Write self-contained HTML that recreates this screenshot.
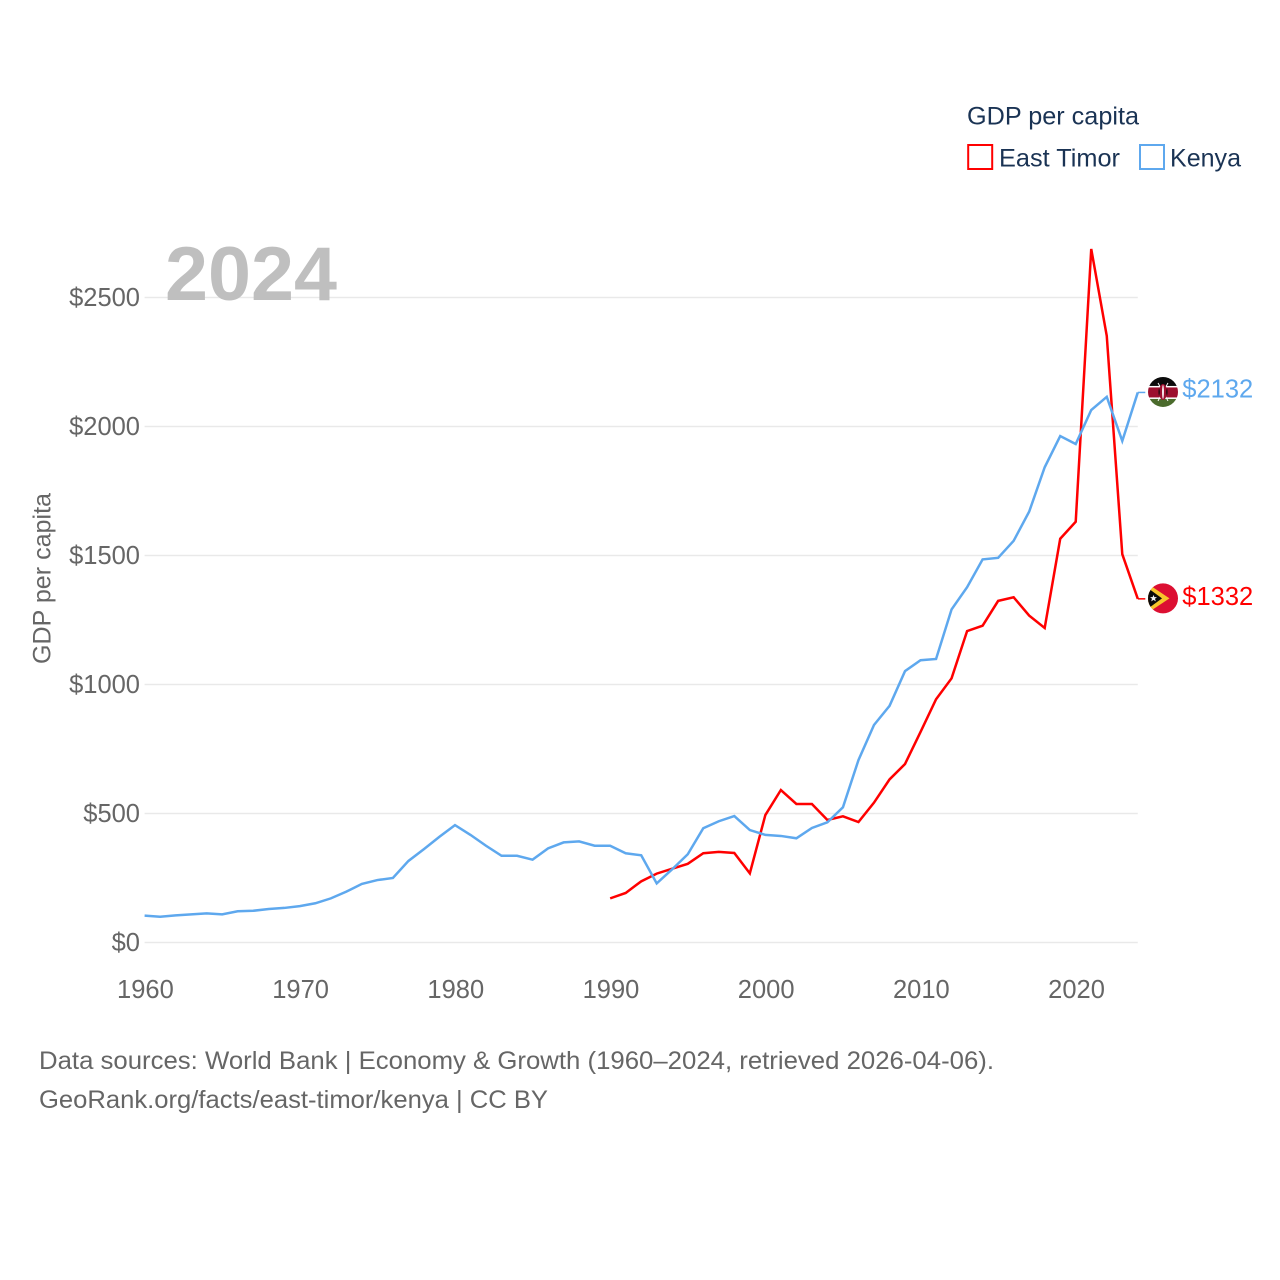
<!DOCTYPE html>
<html lang="en">
<head>
<meta charset="utf-8">
<title>GDP per capita: East Timor and Kenya</title>
<style>
html,body{margin:0;padding:0;background:#fff;}
svg{display:block;}
text{font-family:"Liberation Sans",sans-serif;}
</style>
</head>
<body>
<svg id="chart" xmlns="http://www.w3.org/2000/svg" width="1280" height="1280" viewBox="0 0 1280 1280">
  <rect width="1280" height="1280" fill="#fff"/>
  <defs>
    <clipPath id="flag-clip"><circle cx="0" cy="0" r="15"/></clipPath>
  </defs>
  <g id="grid"></g>
  <text x="165" y="300" font-size="76" font-weight="700" fill="#bfbfbf" textLength="172" lengthAdjust="spacingAndGlyphs">2024</text>
  <g id="y-ticks"></g>
  <g id="x-ticks"></g>
  <text transform="translate(50.5,664) rotate(-90)" font-size="25" fill="#666" textLength="171" lengthAdjust="spacingAndGlyphs">GDP per capita</text>
  <g id="series"></g>

  <g id="flag-kenya">
    <g clip-path="url(#flag-clip)">
      <rect x="-16" y="-16" width="32" height="32" fill="#fff"/>
      <rect x="-16" y="-16" width="32" height="10" fill="#0b0b0b"/>
      <rect x="-16" y="-4.5" width="32" height="10" fill="#9c0f2e"/>
      <rect x="-16" y="7" width="32" height="9" fill="#4b6b2c"/>
      <line x1="-5" y1="-9" x2="5" y2="9" stroke="#fff" stroke-width="1"/>
      <line x1="5" y1="-9" x2="-5" y2="9" stroke="#fff" stroke-width="1"/>
      <ellipse cx="0" cy="0" rx="4" ry="8" fill="#9c0f2e"/>
      <path d="M-4 -4 Q-2.5 0 -4 4 Q-5 0 -4 -4Z M4 -4 Q2.5 0 4 4 Q5 0 4 -4Z" fill="#0b0b0b"/>
      <ellipse cx="0" cy="0" rx="0.9" ry="7" fill="#fff"/>
    </g>
  </g>
  <g id="flag-timor">
    <g clip-path="url(#flag-clip)">
      <rect x="-16" y="-16" width="32" height="32" fill="#dc0f32"/>
      <path d="M-16 -15 L6.5 0 L-16 15Z" fill="#f7c52b"/>
      <path d="M-16 -11 L-1 0 L-16 11Z" fill="#0b0b0b"/>
      <path d="M-9.5 -3.5 L-8.6 -1.2 L-6 -1.2 L-8 0.4 L-7.2 3 L-9.5 1.5 L-11.8 3 L-11 0.4 L-13 -1.2 L-10.4 -1.2Z" fill="#f2f2f2"/>
    </g>
  </g>
  <g id="end-labels"></g>

  <g>
    <text x="967" y="124.3" font-size="25" fill="#1a3354" textLength="172" lengthAdjust="spacingAndGlyphs">GDP per capita</text>
    <rect x="968.2" y="145" width="24" height="24" fill="#fff" stroke="#ff0000" stroke-width="2"/>
    <text x="999" y="166.3" font-size="25" fill="#1a3354" textLength="121" lengthAdjust="spacingAndGlyphs">East Timor</text>
    <rect x="1140" y="145" width="24" height="24" fill="#fff" stroke="#5ea8ee" stroke-width="2"/>
    <text x="1170" y="166.3" font-size="25" fill="#1a3354" textLength="71" lengthAdjust="spacingAndGlyphs">Kenya</text>
  </g>

  <g>
    <text x="39" y="1069" font-size="25" fill="#666" textLength="955" lengthAdjust="spacingAndGlyphs">Data sources: World Bank | Economy &amp; Growth (1960–2024, retrieved 2026-04-06).</text>
    <text x="39" y="1108" font-size="25" fill="#666" textLength="509" lengthAdjust="spacingAndGlyphs">GeoRank.org/facts/east-timor/kenya | CC BY</text>
  </g>
</svg>
<script>
const yTickValues = [0, 500, 1000, 1500, 2000, 2500];
const xTickYears = [1960, 1970, 1980, 1990, 2000, 2010, 2020];
const kenyaStartYear = 1960;
const kenyaValues = [104, 100, 105, 109, 113, 109, 121, 123, 130, 134, 141, 152, 171, 197, 227, 242, 250, 316, 362, 410, 455, 417, 375, 336, 336, 321, 365, 388, 392, 375, 375, 346, 338, 229, 284, 342, 443, 470, 490, 436, 417, 413, 404, 444, 466, 524, 707, 843, 917, 1052, 1094, 1099, 1291, 1377, 1485, 1491, 1557, 1670, 1842, 1963, 1932, 2064, 2115, 1944, 2132];
const timorStartYear = 1990;
const timorValues = [171, 192, 237, 267, 286, 305, 346, 351, 347, 268, 494, 591, 537, 537, 475, 489, 467, 542, 632, 692, 816, 943, 1024, 1207, 1228, 1324, 1338, 1267, 1219, 1565, 1631, 2688, 2351, 1505, 1332];

const NS = 'http://www.w3.org/2000/svg';
const xScale = function (year) { return 144.6 + (year - 1960) * (1137.8 - 144.6) / 64; };
const yScale = function (value) { return 942.5 - value * 0.258; };

function make(tag, parent, attrs, text) {
  const el = document.createElementNS(NS, tag);
  Object.keys(attrs).forEach(function (k) { el.setAttribute(k, attrs[k]); });
  if (text !== undefined) { el.textContent = text; }
  parent.appendChild(el);
  return el;
}

const gridGroup = document.getElementById('grid');
const yGroup = document.getElementById('y-ticks');
yTickValues.forEach(function (v) {
  const line = make('line', gridGroup, { x1: 144.6, x2: 1137.8, y1: yScale(v), y2: yScale(v), stroke: '#e9e9e9', 'stroke-width': 1.5 });
  
  
  const label = make('text', yGroup, { x: 140, y: yScale(v) + 8.3, 'text-anchor': 'end', 'font-size': 25.5, fill: '#666' }, '$' + v);
  
  
});

const xGroup = document.getElementById('x-ticks');
xTickYears.forEach(function (year) {
  const label = make('text', xGroup, { x: xScale(year) + 0.8, y: 998, 'text-anchor': 'middle', 'font-size': 25.5, fill: '#666' }, String(year));
  
  
});

function drawSeries(values, startYear, color, flagId, labelOffset) {
  const seriesGroup = document.getElementById('series');
  const points = values.map(function (v, i) { return xScale(startYear + i).toFixed(2) + ',' + yScale(v).toFixed(2); });
  const path = make('polyline', seriesGroup, { points: points.join(' '), fill: 'none', stroke: color, 'stroke-width': 2.5, 'stroke-linejoin': 'miter' });
  
  
  const last = values[values.length - 1];
  const lastX = xScale(startYear + values.length - 1);
  const lastY = yScale(last);
  const connector = make('line', seriesGroup, { x1: lastX, x2: lastX + 7.5, y1: lastY, y2: lastY, stroke: color, 'stroke-width': 1.5 });
  
  
  document.getElementById(flagId).setAttribute('transform', 'translate(1163,' + (lastY - 0.5) + ')');
  const label = make('text', document.getElementById('end-labels'), { x: 1182.3, y: lastY + labelOffset, 'font-size': 25.5, fill: color }, '$' + last);
  
  
}

drawSeries(timorValues, timorStartYear, '#ff0000', 'flag-timor', 6);
drawSeries(kenyaValues, kenyaStartYear, '#5ea8ee', 'flag-kenya', 4.9);
</script>
</body>
</html>
